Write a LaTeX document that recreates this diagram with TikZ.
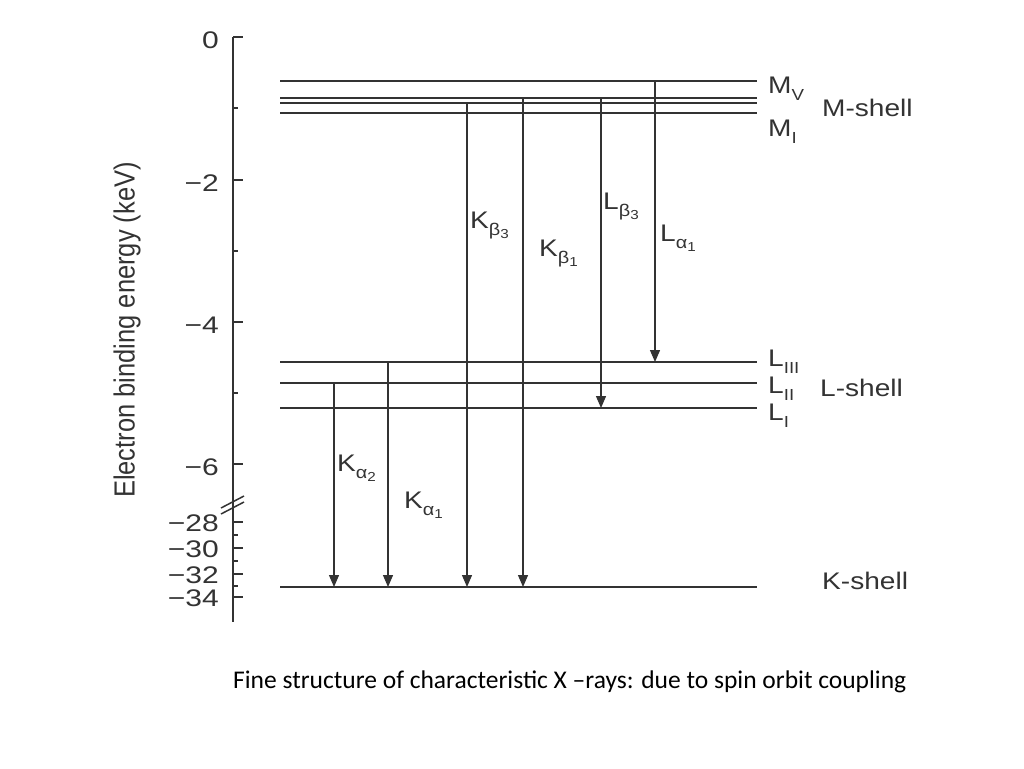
\documentclass[tikz,border=0pt]{standalone}
\usepackage{fontspec}
\setmainfont{Liberation Sans}
\newfontfamily\capfont{Carlito}
\usetikzlibrary{arrows.meta}
\definecolor{ink}{HTML}{333333}
\newcommand\sx[1]{\scalebox{1.17}[1]{#1}}
\newcommand\sxn[1]{\scalebox{1.25}[1]{#1}}
\newcommand\sublab[3]{#1\raisebox{-0.3em}{\fontsize{17}{17}\selectfont #2\raisebox{-0.22em}{\fontsize{13}{13}\selectfont #3}}}
\newcommand\onesub[2]{#1\raisebox{-0.3em}{\fontsize{16}{16}\selectfont #2}}
\begin{document}
\begin{tikzpicture}[x=1pt,y=-1pt,
  lvl/.style={draw=ink,line width=1.3pt},
  axisline/.style={draw=ink,line width=1.5pt},
  arr/.style={draw=ink,line width=1.3pt,-{Triangle[width=10pt,length=12pt]}},
  lab/.style={inner sep=0pt,anchor=base west,text=ink,font=\fontsize{24}{24}\selectfont},
  num/.style={inner sep=0pt,anchor=east,text=ink,font=\fontsize{24}{24}\selectfont}]
\useasboundingbox (0,0) rectangle (1024,768);
% axis
\coordinate (axtop) at (233,37);
\coordinate (axbot) at (233,622);
\draw[axisline] (axtop) -- (axbot);
\foreach \y in {37,180,322,464,522,548,574,597} \draw[axisline] (233,\y) -- (243,\y);
\foreach \y in {108,251,393,535,561,586} \draw[axisline] (233,\y) -- (238,\y);
\draw[axisline] (221,508) -- (244,496);
\draw[axisline] (221,514) -- (244,502);
\node[num] (t0) at (219,40) {\sxn{0}};
\node[num] (t2) at (219,183) {\sxn{−2}};
\node[num] (t4) at (219,325) {\sxn{−4}};
\node[num] (t6) at (219,467) {\sxn{−6}};
\node[num] (t28) at (219,523) {\sxn{−28}};
\node[num] (t30) at (219,549) {\sxn{−30}};
\node[num] (t32) at (219,575) {\sxn{−32}};
\node[num] (t34) at (219,598) {\sxn{−34}};
\node[rotate=90,inner sep=0pt,text=ink,font=\fontsize{26}{26}\selectfont] (ylab) at (127,330) {\scalebox{0.98}[1.12]{Electron binding energy (keV)}};
% levels
\foreach \n/\y in {MV/81,MIII/98,MII/103,MI/113,LIII/362,LII/383,LI/408,K/587}{
  \coordinate (\n a) at (280,\y);
  \coordinate (\n b) at (757,\y);
  \draw[lvl] (\n a) -- (\n b);
}
% transitions
\coordinate (ka2s) at (334,383); \coordinate (ka2e) at (334,587);
\coordinate (ka1s) at (388,362); \coordinate (ka1e) at (388,587);
\coordinate (kb3s) at (467,103); \coordinate (kb3e) at (467,587);
\coordinate (kb1s) at (523,98);  \coordinate (kb1e) at (523,587);
\coordinate (lb3s) at (601,98);  \coordinate (lb3e) at (601,408);
\coordinate (la1s) at (655,81);  \coordinate (la1e) at (655,362);
\draw[arr] (ka2s) -- (ka2e);
\draw[arr] (ka1s) -- (ka1e);
\draw[arr] (kb3s) -- (kb3e);
\draw[arr] (kb1s) -- (kb1e);
\draw[arr] (lb3s) -- (lb3e);
\draw[arr] (la1s) -- (la1e);
% transition labels
\node[lab] (lka2) at (337,471) {\sx{\sublab{K}{α}{2}}};
\node[lab] (lka1) at (404,508) {\sx{\sublab{K}{α}{1}}};
\node[lab] (lkb3) at (470,228) {\sx{\sublab{K}{β}{3}}};
\node[lab] (lkb1) at (539,256) {\sx{\sublab{K}{β}{1}}};
\node[lab] (llb3) at (603,209) {\sx{\sublab{L}{β}{3}}};
\node[lab] (lla1) at (660,241) {\sx{\sublab{L}{α}{1}}};
% level labels
\node[lab] (lMV) at (768,93) {\sx{\onesub{M}{V}}};
\node[lab] (lMI) at (768,136) {\sx{\onesub{M}{I}}};
\node[lab] (lMs) at (822,116) {\sx{M-shell}};
\node[lab] (lLIII) at (768,366) {\sx{\onesub{L}{III}}};
\node[lab] (lLII) at (768,393) {\sx{\onesub{L}{II}}};
\node[lab] (lLI) at (768,420) {\sx{\onesub{L}{I}}};
\node[lab] (lLs) at (820,396) {\sx{L-shell}};
\node[lab] (lKs) at (822,589) {\sx{K-shell}};
% caption
\node[inner sep=0pt,anchor=base west,font=\capfont\fontsize{25.5}{25.5}\selectfont] (cap) at (233,688) {Fine structure of characteristic X –rays: due to spin orbit coupling};
\end{tikzpicture}
\end{document}
